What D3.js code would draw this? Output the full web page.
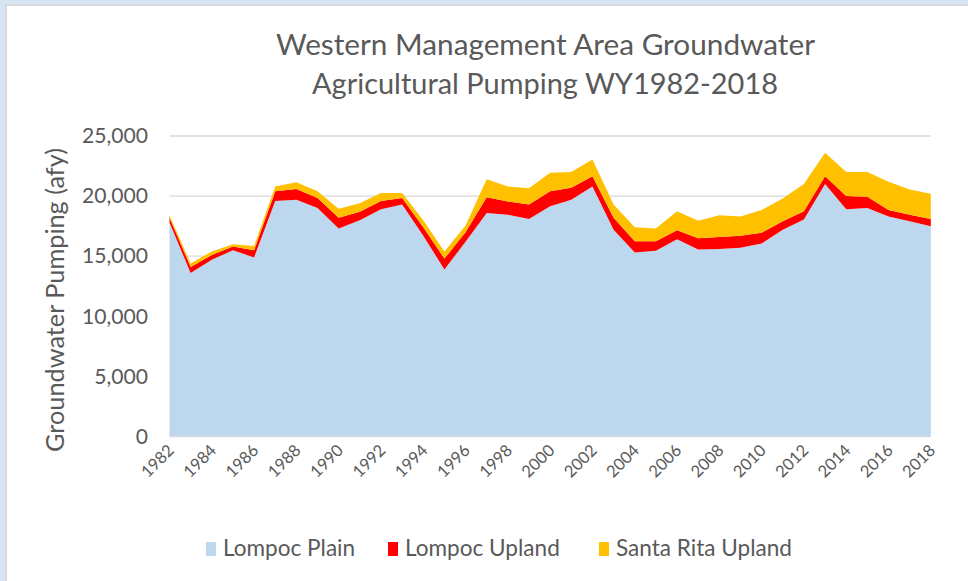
<!DOCTYPE html>
<html><head><meta charset="utf-8">
<script src="https://cdn.jsdelivr.net/npm/d3@7"></script>
<style>
html,body{margin:0;padding:0;background:#fff;}
svg{display:block;}
text{font-family:Lato,"Open Sans",sans-serif;fill:#595959;}
</style></head>
<body>
<svg id="c" width="968" height="581"></svg>
<script>
const years = d3.range(1982, 2019);
const lompocPlain = [17800,13600,14700,15500,14900,19600,19700,19000,17300,18000,18900,19300,16700,13900,16200,18600,18450,18100,19150,19700,20800,17200,15300,15450,16400,15550,15600,15700,16050,17200,18050,21000,18900,19000,18300,17900,17500];
const lompocUpland = [400,500,400,300,600,800,900,850,900,700,700,550,700,900,800,1300,1100,1200,1250,1000,850,1000,950,800,750,950,1000,1000,900,700,700,650,1100,950,550,550,600];
const santaRitaUpland = [200,300,300,200,350,400,550,550,750,700,650,400,600,600,550,1500,1250,1350,1550,1300,1400,1100,1150,1050,1600,1450,1800,1600,1900,1900,2250,1950,2000,2050,2350,2100,2100];
const seriesNames = ["Lompoc Plain","Lompoc Upland","Santa Rita Upland"];
const seriesColors = ["#BDD7EE","#FF0000","#FFC000"];
const yTicks = [0,5000,10000,15000,20000,25000];
const xTickYears = d3.range(1982, 2019, 2);
const titleLines = ["Western Management Area Groundwater","Agricultural Pumping WY1982-2018"];
const yTitle = "Groundwater Pumping (afy)";

const table = years.map((y,i)=>({year:y, "Lompoc Plain":lompocPlain[i], "Lompoc Upland":lompocUpland[i], "Santa Rita Upland":santaRitaUpland[i]}));

const svg = d3.select("#c");
// frame
svg.append("rect").attr("x",0).attr("y",0).attr("width",968).attr("height",581).attr("fill","#D6E4F3");
svg.append("rect").attr("x",5).attr("y",4).attr("width",963).attr("height",577).attr("fill","#D9D9D9");
svg.append("rect").attr("x",7).attr("y",6).attr("width",961).attr("height",575).attr("fill","#FFFFFF");

const L=169.5, R=930.8, T=136, B=436.5;
const x = d3.scaleLinear().domain([1982,2018]).range([L,R]);
const y = d3.scaleLinear().domain([0,25000]).range([B,T]);

// gridlines
svg.append("g").selectAll("line").data(yTicks.filter(d=>d>0)).join("line")
  .attr("x1",L).attr("x2",R).attr("y1",d=>y(d)).attr("y2",d=>y(d))
  .attr("stroke","#D9D9D9").attr("stroke-width",1.3);

const stack = d3.stack().keys(seriesNames);
const stacked = stack(table);
const area = d3.area().x(d=>x(d.data.year)).y0(d=>y(d[0])).y1(d=>y(d[1]));
svg.append("g").selectAll("path").data(stacked).join("path")
  .attr("d",area).attr("fill",(d,i)=>seriesColors[i]);

// baseline
svg.append("line").attr("x1",L).attr("x2",R).attr("y1",B).attr("y2",B).attr("stroke","#D9D9D9").attr("stroke-width",1.3);

function fitText(sel, w){
  const n = sel.node(); const l = n.getComputedTextLength();
  const fs = parseFloat(sel.attr("font-size"));
  const nf = fs*w/l;
  sel.attr("font-size", nf.toFixed(2)+"px");
  return nf;
}

// y axis labels
const yAxis = d3.axisLeft(y).tickValues(yTicks).tickSize(0).tickPadding(0).tickFormat(d3.format(","));
const gy = svg.append("g").attr("transform",`translate(148,0)`).call(yAxis);
gy.select(".domain").remove();
gy.selectAll("text").attr("font-size","16px").attr("fill","#595959").attr("font-family","Lato, sans-serif");
const y25 = gy.selectAll("text").filter(d=>d===25000);
const yfs = fitText(y25, 66);
gy.selectAll("text").attr("font-size", yfs.toFixed(2)+"px");

// x axis labels
const xAxis = d3.axisBottom(x).tickValues(xTickYears).tickSize(0).tickPadding(0).tickFormat(d3.format("d"));
const gx = svg.append("g").attr("transform",`translate(0,${B})`).call(xAxis);
gx.select(".domain").remove();
gx.selectAll("text").attr("font-size","16.5px").attr("fill","#595959").attr("font-family","Lato, sans-serif")
  .attr("text-anchor","end").attr("dy",null).attr("y",null)
  .attr("transform","translate(5,15) rotate(-45)");

// title
const t1 = svg.append("text").attr("x",545.5).attr("y",55).attr("text-anchor","middle").attr("font-size","22px").text(titleLines[0]);
fitText(t1,539);
const t2 = svg.append("text").attr("x",545).attr("y",94).attr("text-anchor","middle").attr("font-size","22px").text(titleLines[1]);
fitText(t2,466);

// y title
const yt = svg.append("text").attr("transform","translate(64,300) rotate(-90)").attr("text-anchor","middle").attr("font-size","17px").text(yTitle);
fitText(yt,304);

// legend
const legX = [206,388,599];
const lg = svg.append("g");
const legTexts = seriesNames.map((n,i)=>{
  lg.append("rect").attr("x",legX[i]).attr("y",542).attr("width",10).attr("height",14).attr("fill",seriesColors[i]);
  return lg.append("text").attr("x",legX[i]+17).attr("y",556).attr("font-size","18px").text(n);
});
const lfs = fitText(legTexts[2],176);
legTexts.forEach(t=>t.attr("font-size", lfs.toFixed(2)+"px"));
</script>
</body></html>
